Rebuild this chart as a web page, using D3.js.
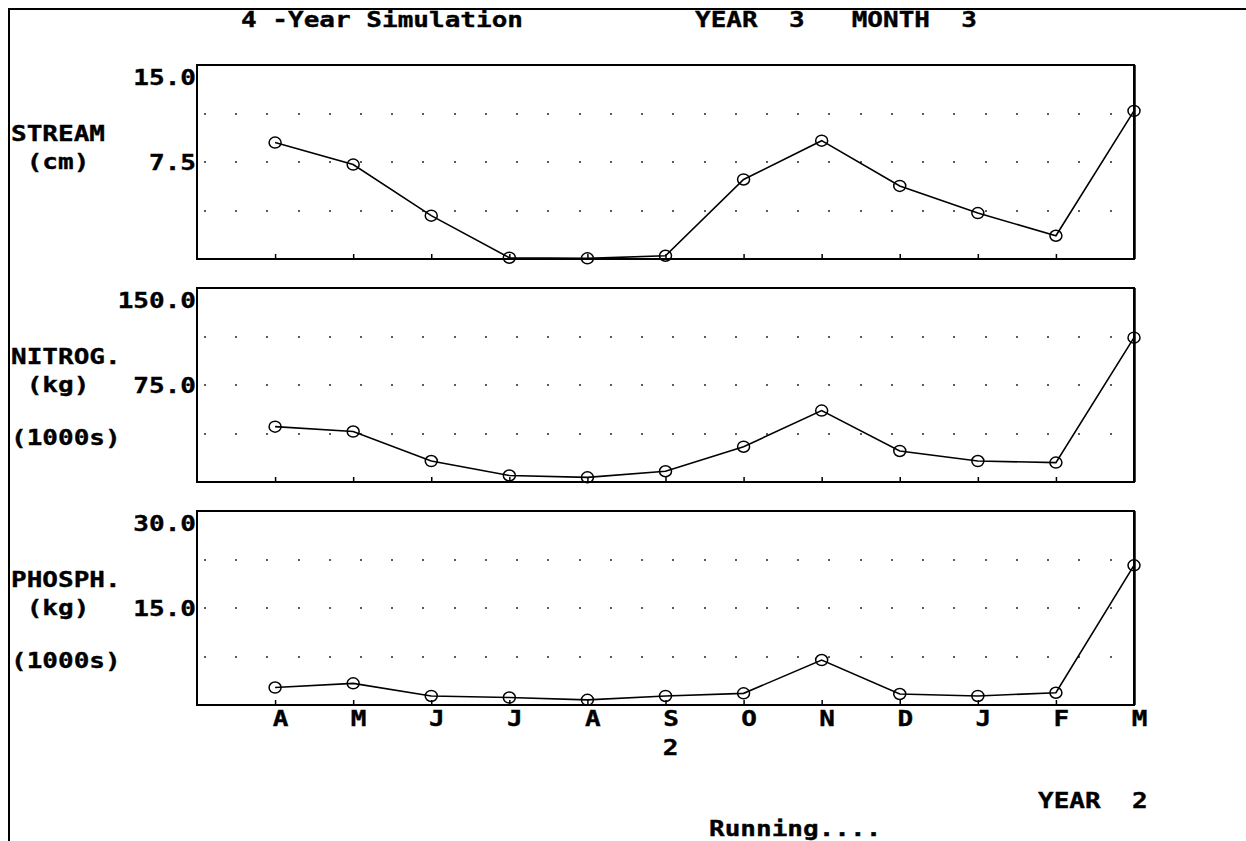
<!DOCTYPE html>
<html>
<head>
<meta charset="utf-8">
<script src="https://cdn.jsdelivr.net/npm/d3@7"></script>
<style>
  html, body { margin: 0; padding: 0; background: #fff; overflow: hidden; }
  svg { display: block; }
  text {
    font-family: "DejaVu Sans Mono", "Liberation Mono", monospace;
    font-weight: bold;
    font-size: 21px;
    fill: #000;
    stroke: #000;
    stroke-width: 0.35px;
    white-space: pre;
  }
</style>
</head>
<body>
<svg id="chart" width="1246" height="841"></svg>
<script>
// Monthly outputs, April of year 2 through March of year 3
const months = ["A", "M", "J", "J", "A", "S", "O", "N", "D", "J", "F", "M"];
const streamCm = [9.0, 7.3, 3.35, 0.1, 0.05, 0.25, 6.15, 9.15, 5.65, 3.55, 1.8, 11.45];
const nitrogenKg = [42.8, 39.0, 16.2, 5.0, 3.6, 8.3, 27.3, 55.2, 24.0, 16.2, 15.0, 111.6];
const phosphorusKg = [2.7, 3.35, 1.4, 1.15, 0.8, 1.4, 1.8, 6.95, 1.7, 1.4, 1.9, 21.6];

const panelLabels = [
  ["STREAM", " (cm)"],
  ["NITROG.", " (kg)", "(1000s)"],
  ["PHOSPH.", " (kg)", "(1000s)"]
];
const axisMax = [15, 150, 30];
const axisTicks = [[15, 7.5], [150, 75], [30, 15]];

const titleText = "4 -Year Simulation";
const statusText = "YEAR  3   MONTH  3";
const yearMarker = "2";
const footerYear = "YEAR  2";
const footerStatus = "Running....";

const series = [streamCm, nitrogenKg, phosphorusKg];

const svg = d3.select("#chart");
const W = 1246, H = 841;

// screen frame
svg.append("rect").attr("width", W).attr("height", H).attr("fill", "#fff");
svg.append("path")
  .attr("d", `M9,${H} V9 H${W}`)
  .attr("fill", "none").attr("stroke", "#000").attr("stroke-width", 2);

// wide bitmap-style text
const SX = 1.24;
function label(parent, str, x, y, anchor) {
  return parent.append("text")
    .attr("transform", `translate(${x},${y}) scale(${SX},1)`)
    .attr("text-anchor", anchor || "start")
    .text(str);
}

label(svg, titleText, 241, 27);
label(svg, statusText, 695, 27);

const plotLeft = 197, plotRight = 1134;
const panelTops = [65, 288, 511];
const panelH = 194;

const x = d3.scaleLinear().domain([0, 12]).range([plotLeft, plotRight]);
const gridX = d3.range(30).map(k => 0.1 + 0.4 * k);

panelTops.forEach((top, p) => {
  const y = d3.scaleLinear().domain([0, axisMax[p]]).range([top + panelH, top]);
  const g = svg.append("g");

  // dotted grid at quarter heights
  const rows = [0.25, 0.5, 0.75].map(f => f * axisMax[p]);
  rows.forEach(v => {
    g.selectAll(null).data(gridX).join("rect")
      .attr("x", d => Math.round(x(d)) - 0.8)
      .attr("y", Math.round(y(v)) - 0.8)
      .attr("width", 1.6).attr("height", 1.6)
      .attr("fill", "#000");
  });

  // month ticks (inward)
  const xAxis = d3.axisBottom(x)
    .tickValues(d3.range(1, 12))
    .tickSizeInner(-5).tickSizeOuter(0)
    .tickFormat("");
  const ax = g.append("g")
    .attr("transform", `translate(0,${top + panelH})`)
    .call(xAxis);
  ax.select(".domain").remove();
  ax.selectAll("line").attr("stroke", "#000").attr("stroke-width", 1.5);

  // frame
  g.append("rect")
    .attr("x", plotLeft).attr("y", top)
    .attr("width", plotRight - plotLeft).attr("height", panelH)
    .attr("fill", "none").attr("stroke", "#000").attr("stroke-width", 2);
  g.append("line")
    .attr("x1", plotRight + 1).attr("x2", plotRight + 1)
    .attr("y1", top).attr("y2", top + panelH)
    .attr("stroke", "#000").attr("stroke-width", 1.5);

  // value labels on the left
  const yAxis = d3.axisLeft(y)
    .tickValues(axisTicks[p])
    .tickSize(0).tickPadding(0)
    .tickFormat(d3.format(".1f"));
  const ay = g.append("g")
    .attr("transform", `translate(${plotLeft - 1},0)`)
    .call(yAxis);
  ay.select(".domain").remove();
  ay.attr("font-size", null).attr("font-family", null);
  ay.selectAll("text")
    .attr("x", 0)
    .attr("dy", null)
    .attr("y", d => d === axisMax[p] ? 19 : 7)
    .attr("transform", `scale(${SX},1)`)
    .attr("fill", "#000");

  // series name and units
  const lbl = panelLabels[p];
  label(svg, lbl[0], 11, top + 76);
  label(svg, lbl[1], 11, top + panelH / 2 + 7);
  if (lbl[2]) label(svg, lbl[2], 11, top + 157);

  // data line and markers
  const data = series[p].map((v, i) => ({ i: i + 1, v }));
  const line = d3.line().x(d => x(d.i)).y(d => y(d.v));
  g.append("path")
    .datum(data)
    .attr("d", line)
    .attr("fill", "none").attr("stroke", "#000").attr("stroke-width", 1.6);
  g.selectAll("ellipse").data(data).join("ellipse")
    .attr("cx", d => x(d.i)).attr("cy", d => y(d.v))
    .attr("rx", 6).attr("ry", 5.5)
    .attr("fill", "none").attr("stroke", "#000").attr("stroke-width", 1.5);

  // month names under the last panel
  if (p === panelTops.length - 1) {
    const mAxis = d3.axisBottom(x)
      .tickValues(d3.range(1, 13))
      .tickSize(0).tickPadding(0)
      .tickFormat(i => months[i - 1]);
    const am = svg.append("g")
      .attr("transform", `translate(0,${top + panelH})`)
      .call(mAxis);
    am.select(".domain").remove();
    am.attr("font-size", null).attr("font-family", null);
    am.selectAll("text")
      .attr("dy", null)
      .attr("y", 21)
      .attr("x", 5 / SX)
      .attr("transform", `scale(${SX},1)`)
      .attr("fill", "#000");
    // year marker under September
    label(svg, yearMarker, x(6) + 5, top + panelH + 50, "middle");
  }
});

label(svg, footerYear, 1038, 808);
label(svg, footerStatus, 709, 836);
</script>
</body>
</html>
